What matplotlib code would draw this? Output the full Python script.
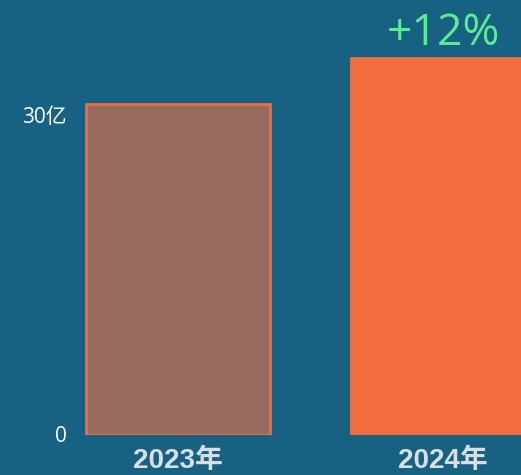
import matplotlib
matplotlib.use('Agg')
import matplotlib.pyplot as plt
import matplotlib.transforms as mtransforms

plt.rcParams['font.family'] = ['Open Sans', 'Noto Sans CJK SC', 'DejaVu Sans']

# data
years = ['2023年', '2024年']
revenue = [31.1, 35.5]  # 亿
tick_vals = [0, 30]
tick_labels = ['0', '30亿']
growth_label = '+12%'

bg = '#176282'
fig = plt.figure(figsize=(5.21, 4.75), dpi=100, facecolor=bg)
# axes occupies the area above the category labels
ax = fig.add_axes([0, 40 / 475, 1, 435 / 475])
ax.set_facecolor(bg)

x = list(range(len(years)))
bars = ax.bar(x, revenue, width=0.694, color=['#976B5E', '#F26D3E'],
              edgecolor=['#F26C3F', '#F26D3E'], linewidth=2, zorder=2)

ax.set_xlim(-178 / 265, 343 / 265)
ax.set_ylim(0, 435 / (319 / 30))

for s in ax.spines.values():
    s.set_visible(False)

# y labels as text, right aligned at a fixed pixel column
ax.set_yticks([])
trans = mtransforms.blended_transform_factory(fig.transFigure, ax.transData)
for v, t in zip(tick_vals, tick_labels):
    ax.text(67 / 521, v - 0.15, t, transform=trans, ha='right', va='center',
            fontsize=15, color='white')

ax.set_xticks(x)
ax.set_xticklabels(years)
ax.tick_params(axis='x', length=0, labelsize=20, labelcolor='#D8DEE3', pad=9)
for lbl in ax.get_xticklabels():
    lbl.set_fontweight('bold')
    lbl.set_family(['Liberation Sans', 'Noto Sans CJK SC'])

# growth label above 2024 bar
ax.text(x[1], revenue[1] + 0.1, growth_label, ha='center', va='bottom',
        fontsize=32, color='#5CEB95')

fig.savefig('out.png', dpi=100, facecolor=bg)
